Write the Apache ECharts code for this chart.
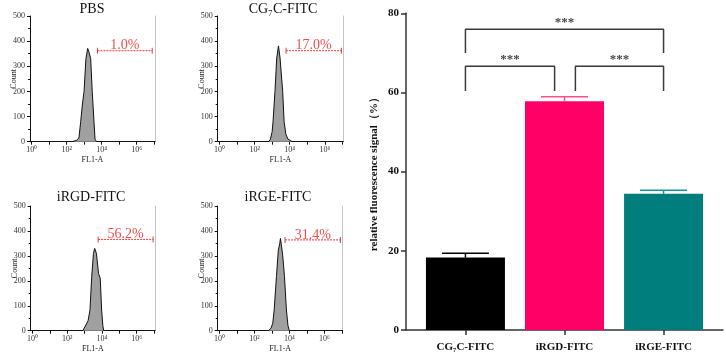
<!DOCTYPE html>
<html><head><meta charset="utf-8">
<script src="https://cdn.jsdelivr.net/npm/echarts@6/dist/echarts.min.js"></script>
<style>html,body{margin:0;padding:0;background:#fff}#c{width:726px;height:357px}</style>
</head><body><div id="c"></div>
<script>
// ---- Flow cytometry histograms (x = log10 FL1-A, y = Count) ----
const panelTitles = ['PBS', 'CG₇C-FITC', 'iRGD-FITC', 'iRGE-FITC'];
const gatePercents = ['1.0%', '17.0%', '56.2%', '31.4%'];
const gateStart = [3.76, 3.79, 3.78, 3.75];
const gateEnd = [6.89, 6.94, 6.94, 6.92];
const gateCount = [362, 362, 366, 364];
const histPBS = [[2.3,0],[2.55,5],[2.7,15],[2.8,80],[2.9,150],[2.99,199],[3.1,331],[3.2,371],[3.26,360],[3.37,331],[3.46,199],[3.56,80],[3.62,10],[3.7,0]];
const histCG7C = [[2.8,0],[2.9,10],[3.0,40],[3.05,80],[3.16,199],[3.26,333],[3.36,381],[3.45,333],[3.6,199],[3.68,80],[3.78,30],[3.9,10],[4.0,5],[4.15,0]];
const histIRGD = [[2.9,0],[3.0,8],[3.2,40],[3.31,83],[3.41,217],[3.51,310],[3.58,330],[3.62,334],[3.68,310],[3.74,310],[3.8,230],[3.9,210],[3.98,83],[4.05,20],[4.1,0]];
const histIRGE = [[2.8,0],[2.95,10],[3.05,30],[3.13,83],[3.26,217],[3.37,324],[3.45,350],[3.49,370],[3.55,340],[3.62,300],[3.72,217],[3.83,83],[3.92,20],[4.0,0]];
const countTicks = [0, 100, 200, 300, 400, 500];
const decadeTicks = [0, 1, 2, 3, 4, 5, 6, 7];
const decadeLabels = [0, 2, 4, 6];

// ---- Bar chart ----
const barCategories = ['CG₇C-FITC', 'iRGD-FITC', 'iRGE-FITC'];
const barValues = [18.3, 57.8, 34.4];
const barErrors = [1.1, 1.1, 0.9];
const barColors = ['#000000', '#ff0066', '#007d7d'];
const errColors = ['#000000', '#ff4d8f', '#129696'];
const bracketFrom = [0, 0, 1.11];
const bracketTo = [2, 0.9, 2];
const bracketTop = [76, 66.6, 66.6];
const bracketLeg = [70, 60.4, 60.4];
const bracketLabels = ['***', '***', '***'];
const signalTicks = [0, 20, 40, 60, 80];

const SERIF = 'Liberation Serif';
const hists = [histPBS, histCG7C, histIRGD, histIRGE];
const gridPos = [
  {left: 30, top: 16, width: 125, height: 125.7},
  {left: 217.7, top: 16, width: 125.6, height: 125.7},
  {left: 30.7, top: 206, width: 124.3, height: 124.7},
  {left: 217.7, top: 206, width: 125, height: 124.7}
];
const titlePos = [[92, 9], [283, 9], [91, 197], [278, 197]];
const sup = {0: '⁰', 2: '²', 4: '⁴', 6: '⁶'};

const grids = [], xAxes = [], yAxes = [], series = [], graphics = [];
gridPos.forEach((g, i) => {
  grids.push(Object.assign({containLabel: false}, g));
  xAxes.push({
    type: 'value', gridIndex: i, min: -0.1, max: 7.05,
    name: 'FL1-A', nameLocation: 'middle', nameGap: 14, nameMoveOverlap: false,
    nameTextStyle: {fontFamily: SERIF, fontSize: 8, color: '#222'},
    axisLine: {onZero: false, lineStyle: {color: '#111', width: 1}},
    axisTick: {customValues: decadeTicks, length: 3, lineStyle: {color: '#111'}},
    axisLabel: {customValues: decadeLabels, formatter: v => '10' + sup[v], fontFamily: SERIF, fontSize: 8, color: '#333', margin: 4},
    splitLine: {show: false}
  });
  yAxes.push({
    type: 'value', gridIndex: i, min: 0, max: 500, interval: 100,
    name: 'Count', nameLocation: 'middle', nameGap: 12, nameMoveOverlap: false,
    nameTextStyle: {fontFamily: SERIF, fontSize: 8, color: '#222'},
    axisLine: {show: true, onZero: false, lineStyle: {color: '#111', width: 1}},
    axisTick: {show: true, length: 3, lineStyle: {color: '#111'}},
    minorTick: {show: true, splitNumber: 2, length: 2, lineStyle: {color: '#111'}},
    axisLabel: {fontFamily: SERIF, fontSize: 8, color: '#333', margin: 5},
    splitLine: {show: false}
  });
});
gridPos.forEach((g, i) => {
  yAxes.push({
    type: 'value', gridIndex: i, min: 0, max: 500, position: 'right',
    axisLine: {show: true, onZero: false, lineStyle: {color: '#c4c4c4', width: 1}},
    axisTick: {show: false}, axisLabel: {show: false}, splitLine: {show: false}
  });
});
hists.forEach((h, i) => {
  series.push({
    type: 'line', xAxisIndex: i, yAxisIndex: i, data: h, showSymbol: false, smooth: false,
    lineStyle: {color: '#111', width: 1}, areaStyle: {color: '#a0a0a0', opacity: 1}, z: 3, silent: true
  });
  series.push({
    type: 'line', xAxisIndex: i, yAxisIndex: i,
    data: [[gateStart[i], gateCount[i]], [gateEnd[i], gateCount[i]]],
    symbol: 'rect', symbolSize: [1, 6], showSymbol: true,
    itemStyle: {color: '#f03a3a'},
    lineStyle: {color: '#f03a3a', width: 1, type: [2, 1]}, z: 4, silent: true
  });
  series.push({
    type: 'scatter', xAxisIndex: i, yAxisIndex: i,
    data: [[(gateStart[i] + gateEnd[i]) / 2, gateCount[i]]], symbolSize: 0,
    label: {show: true, position: 'top', distance: -2, formatter: gatePercents[i],
      fontFamily: SERIF, fontSize: 14, color: '#ee2020'}, silent: true
  });
  graphics.push({
    type: 'text', x: titlePos[i][0], y: titlePos[i][1],
    style: {text: panelTitles[i], align: 'center', verticalAlign: 'middle',
      fontFamily: SERIF, fontSize: 14, fill: '#111'}
  });
});

// Bar chart axes (index 4)
grids.push({left: 406, right: 3, top: 13.3, bottom: 27});
xAxes.push({
  type: 'value', gridIndex: 4, min: -0.6, max: 2.6,
  axisLine: {onZero: false, lineStyle: {color: '#333', width: 1.5}},
  axisTick: {customValues: [0, 1, 2], length: 5, lineStyle: {color: '#333', width: 1.5}},
  axisLabel: {customValues: [0, 1, 2], margin: 12,
    formatter: v => barCategories[Math.round(v)],
    fontFamily: SERIF, fontWeight: 'bold', fontSize: 11, color: '#111'},
  splitLine: {show: false}
});
yAxes.push({
  type: 'value', gridIndex: 4, min: 0, max: 80, interval: 20,
  name: 'relative fluorescence signal（%）', nameLocation: 'middle', nameGap: 26, nameMoveOverlap: false,
  nameTextStyle: {fontFamily: SERIF, fontWeight: 'bold', fontSize: 11, color: '#111'},
  axisLine: {show: true, onZero: false, lineStyle: {color: '#333', width: 1.5}},
  axisTick: {show: true, length: 5, lineStyle: {color: '#333', width: 1.5}},
  axisLabel: {fontFamily: SERIF, fontWeight: 'bold', fontSize: 11, color: '#111', margin: 7},
  splitLine: {show: false}
});
const BX = 4, BY = 8;
series.push({
  type: 'bar', xAxisIndex: BX, yAxisIndex: BY, barWidth: 79,
  data: barValues.map((v, i) => ({value: [i, v], itemStyle: {color: barColors[i]}})), z: 2
});
series.push({
  type: 'custom', xAxisIndex: BX, yAxisIndex: BY, z: 3,
  data: barValues.map((v, i) => [i, v, barErrors[i]]),
  renderItem: (params, api) => {
    const x = api.value(0), v = api.value(1), e = api.value(2);
    const p0 = api.coord([x, v]), p1 = api.coord([x, v + e]);
    const c = errColors[params.dataIndex];
    return {type: 'group', children: [
      {type: 'line', shape: {x1: p0[0], y1: p0[1], x2: p1[0], y2: p1[1]}, style: {stroke: c, lineWidth: 1.5}},
      {type: 'line', shape: {x1: p1[0] - 23.5, y1: p1[1], x2: p1[0] + 23.5, y2: p1[1]}, style: {stroke: c, lineWidth: 1.5}}
    ]};
  }
});
bracketFrom.forEach((f, k) => {
  series.push({
    type: 'line', xAxisIndex: BX, yAxisIndex: BY, showSymbol: false, silent: true,
    data: [[f, bracketLeg[k]], [f, bracketTop[k]], [bracketTo[k], bracketTop[k]], [bracketTo[k], bracketLeg[k]]],
    lineStyle: {color: '#3a3a3a', width: 1.5}
  });
  series.push({
    type: 'scatter', xAxisIndex: BX, yAxisIndex: BY, symbolSize: 0, silent: true,
    data: [[(f + bracketTo[k]) / 2, bracketTop[k]]],
    label: {show: true, position: 'top', distance: 0, formatter: bracketLabels[k],
      fontFamily: SERIF, fontWeight: 'bold', fontSize: 13, color: '#111'}
  });
});

const chart = echarts.init(document.getElementById('c'), null, {renderer: 'canvas'});
chart.setOption({
  animation: false, backgroundColor: '#fff',
  grid: grids, xAxis: xAxes, yAxis: yAxes, series: series, graphic: graphics
});
</script></body></html>
